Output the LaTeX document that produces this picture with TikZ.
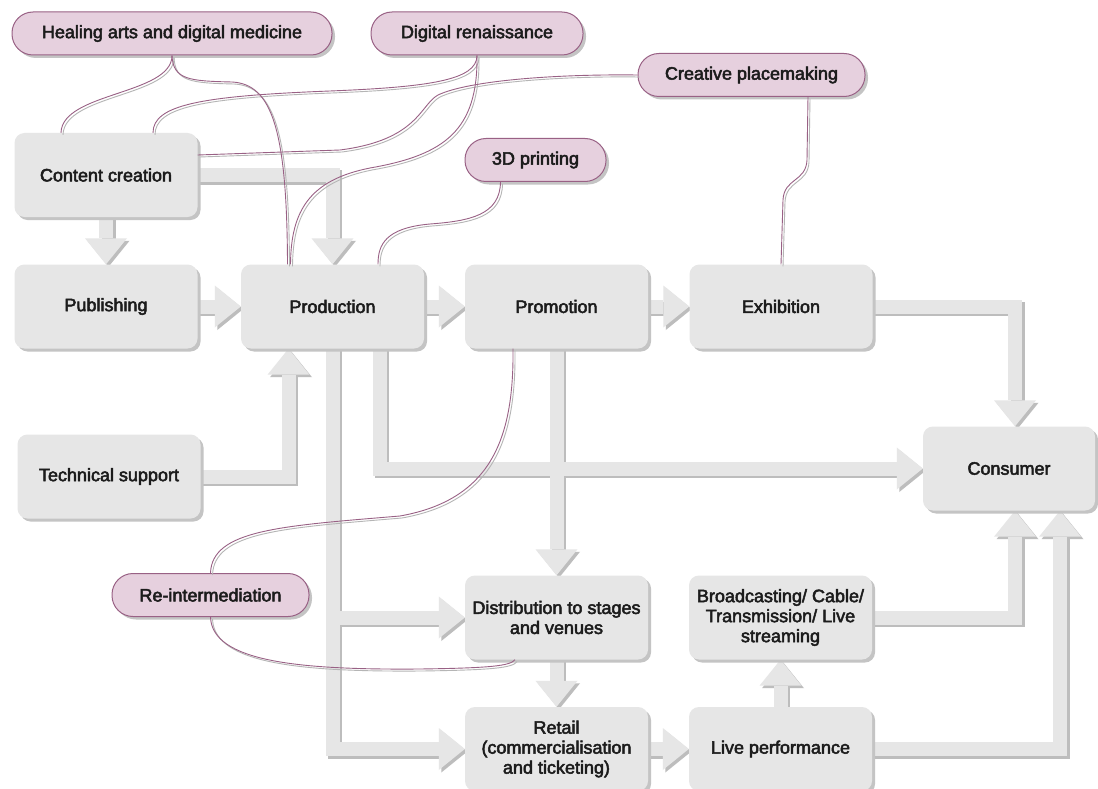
\documentclass[tikz,border=0pt]{standalone}
\usepackage{fontspec}
\setmainfont{Liberation Sans}
\usetikzlibrary{arrows.meta,shadows}

\definecolor{boxfill}{HTML}{E6E6E6}
\definecolor{boxshadow}{HTML}{C4C4C4}
\definecolor{arrowshadow}{HTML}{BDBDBD}
\definecolor{pinkfill}{HTML}{E6D0DE}
\definecolor{pinkline}{HTML}{996185}
\definecolor{linkshadow}{HTML}{B5B5B5}
\definecolor{txt}{HTML}{1C1C1C}

\pgfdeclarelayer{paper}
\pgfdeclarelayer{bg}
\pgfsetlayers{paper,bg,main}

% slightly heavier glyphs: fill and stroke the text outlines
\newcommand\heavyon{\special{pdf:literal direct 2 Tr 0.5 w}}
\newcommand\heavyoff{\special{pdf:literal direct 0 Tr 1 w}}

\tikzset{
  lbl/.style={font=\fontsize{18pt}{20pt}\selectfont, text=txt, align=center, inner sep=0pt,
    execute at begin node=\heavyon, execute at end node=\heavyoff},
  box/.style={lbl, rectangle, rounded corners=10pt, fill=boxfill,
    minimum width=183pt, minimum height=84pt,
    drop shadow={shadow xshift=3pt, shadow yshift=-3pt, fill=boxshadow, opacity=1}},
  pill/.style={lbl, rectangle, rounded corners=21pt, fill=pinkfill, draw=pinkline,
    line width=1pt, minimum height=43pt,
    drop shadow={shadow xshift=3pt, shadow yshift=-3pt, fill=boxshadow, opacity=1}},
  fat/.style={line width=14pt, draw=boxfill, line join=miter,
    -{Triangle[width=42pt, length=26pt, line width=0pt]}},
  link/.style={draw=pinkline, line width=0.9pt}
}

% flow arrows between the stages
\newcommand\flowarrows{
  \draw[fat] (cc.south) -- (pub.north);
  \draw[fat] (cc.east) -| (prod.north);
  \draw[fat] (pub.east) -- (prod.west);
  \draw[fat] (prod.east) -- (promo.west);
  \draw[fat] (promo.east) -- (exh.west);
  \draw[fat] (exh.east) -| ([xshift=6pt]cons.north);
  \draw[fat] (ts.east) -| ([xshift=-44pt]prod.south);
  \draw[fat] ([xshift=47pt]prod.south) |- (cons.west);
  \draw[fat] (prod.south) |- (dist.west);
  \draw[fat] (prod.south) |- (ret.west);
  \draw[fat] (promo.south) -- (dist.north);
  \draw[fat] (dist.south) -- (ret.north);
  \draw[fat] (ret.east) -- (lp.west);
  \draw[fat] (lp.north) -- (bc.south);
  \draw[fat] (bc.east) -| ([xshift=6pt]cons.south);
  \draw[fat] (lp.east) -| ([xshift=51pt]cons.south);
}

% thin curved links from the trend bubbles
\newcommand\trendlinks{
  \draw[link] (heal.south) .. controls (172,95) and (62,92) .. ([xshift=-45pt]cc.north);
  \draw[link] (heal.south) .. controls (173,80) and (190,81) .. (232,82)
     .. controls (272,84) and (287,130) .. ([xshift=-45pt]prod.north);
  \draw[link] (dr.south) .. controls (477,80) and (430,87) .. (330,91)
     .. controls (200,96) and (153,105) .. ([xshift=47pt]cc.north);
  \draw[link] (cp.west) .. controls (560,74) and (470,80) .. (438,95)
     .. controls (420,105) and (418,140) .. (340,150) -- ([yshift=20pt]cc.east);
  \draw[link] (dr.south) .. controls (478,130) and (445,155) .. (370,168)
     .. controls (310,180) and (291,210) .. ([xshift=-42pt]prod.north);
  \draw[link] ([xshift=-35pt]tdp.south) .. controls (500,215) and (470,221) .. (430,224)
     .. controls (385,228) and (378,245) .. ([xshift=45.5pt]prod.north);
  \draw[link] ([xshift=56.5pt]cp.south) -- (807,160)
     .. controls (806,182) and (784,178) .. (783,200) -- (exh.north);
  \draw[link] ([xshift=-43.5pt]promo.south) .. controls (514,440) and (490,500) .. (400,516)
     .. controls (280,526) and (212,530) .. (ri.north);
  \draw[link] (ri.south) .. controls (212,662) and (300,670) .. (420,669)
     .. controls (490,668) and (510,666) .. ([xshift=-41.5pt]dist.south);
}

\begin{document}
\begin{tikzpicture}[x=1pt, y=-1pt]
\useasboundingbox (0,0) rectangle (1098,789);
\begin{pgfonlayer}{paper}
  \fill[white] (0,0) rectangle (1098,789);
\end{pgfonlayer}

% trend bubbles
\node[pill, minimum width=320pt] (heal) at (172,33.5) {Healing arts and digital medicine};
\node[pill, minimum width=212pt] (dr) at (477,33.5) {Digital renaissance};
\node[pill, minimum width=227pt] (cp) at (751.5,75) {Creative placemaking};
\node[pill, minimum width=141pt] (tdp) at (535.5,160) {3D printing};
\node[pill, minimum width=197pt] (ri) at (210.5,595) {Re-intermediation};

% value-chain stages
\node[box] (cc) at (106,175) {Content creation};
\node[box] (pub) at (106,306.5) {Publishing};
\node[box] (prod) at (332.5,306.5) {Production};
\node[box] (promo) at (556.5,306.5) {Promotion};
\node[box] (exh) at (781,306.5) {Exhibition};
\node[box] (ts) at (109,476.5) {Technical support};
\node[box, minimum width=172pt] (cons) at (1009,468.5) {Consumer};
\node[box] (dist) at (556.5,617.5) {Distribution to stages\\and venues};
\node[box] (bc) at (780.5,617.5) {Broadcasting/ Cable/\\Transmission/ Live\\streaming};
\node[box] (ret) at (556.5,749) {Retail\\(commercialisation\\and ticketing)};
\node[box] (lp) at (780.5,749) {Live performance};

\begin{pgfonlayer}{bg}
  \begin{scope}[transform canvas={xshift=2.5pt, yshift=-2.5pt}, fat/.append style={draw=arrowshadow}]
    \flowarrows
  \end{scope}
  \flowarrows
\end{pgfonlayer}

\begin{scope}[transform canvas={xshift=2pt, yshift=-2pt}, link/.append style={draw=linkshadow}]
  \trendlinks
\end{scope}
\trendlinks
\end{tikzpicture}
\end{document}
